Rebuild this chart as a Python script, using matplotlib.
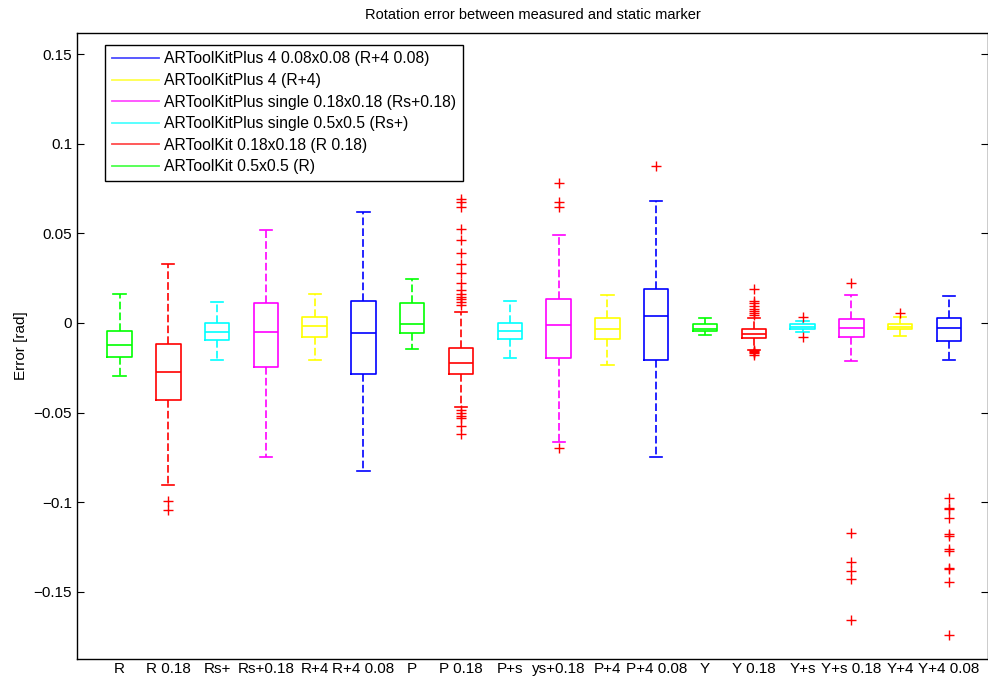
import numpy as np
import matplotlib
matplotlib.use('Agg')
import matplotlib.pyplot as plt
from matplotlib.lines import Line2D

plt.rcParams['font.family'] = ['Liberation Sans', 'DejaVu Sans']

# Box labels and colours
labels = ['R', 'R 0.18', 'Rs+', 'Rs+0.18', 'R+4', 'R+4 0.08', 'P', 'P 0.18', 'P+s',
          'ys+0.18', 'P+4', 'P+4 0.08', 'Y', 'Y 0.18', 'Y+s', 'Y+s 0.18', 'Y+4', 'Y+4 0.08']
colors = ['#00ff00', '#ff0000', '#00ffff', '#ff00ff', '#ffff00', '#0000ff'] * 3

# Box statistics [rad]
whislo = [-0.0296, -0.0907, -0.0209, -0.0747, -0.0209, -0.0825,
          -0.0147, -0.0470, -0.0196, -0.0663, -0.0235, -0.0750,
          -0.0066, -0.0150, -0.0048, -0.0210, -0.0075, -0.0207]
q1 = [-0.0188, -0.0432, -0.0093, -0.0244, -0.0080, -0.0285,
      -0.0058, -0.0285, -0.0089, -0.0196, -0.0088, -0.0207,
      -0.0047, -0.0084, -0.0032, -0.0080, -0.0035, -0.0101]
med = [-0.0125, -0.0276, -0.0052, -0.0052, -0.0017, -0.0056,
       -0.0006, -0.0222, -0.0045, -0.0011, -0.0034, 0.0039,
       -0.0033, -0.0063, -0.0020, -0.0028, -0.0020, -0.0026]
q3 = [-0.0047, -0.0117, 0.0000, 0.0114, 0.0035, 0.0123,
      0.0110, -0.0138, -0.0002, 0.0132, 0.0026, 0.0188,
      -0.0008, -0.0035, -0.0007, 0.0021, -0.0006, 0.0030]
whishi = [0.0161, 0.0331, 0.0119, 0.0520, 0.0160, 0.0620,
          0.0244, 0.0061, 0.0125, 0.0490, 0.0156, 0.0683,
          0.0030, 0.0030, 0.0013, 0.0158, 0.0035, 0.0149]
fliers = [
    [],
    [-0.0994, -0.1047],
    [],
    [],
    [],
    [],
    [],
    [0.0690, 0.0678, 0.0646, 0.0523, 0.0462, 0.0389, 0.0331, 0.0281, 0.0222, 0.0184,
     0.0160, 0.0147, 0.0135, 0.0119, 0.0101,
     -0.0488, -0.0505, -0.0518, -0.0533, -0.0574, -0.0620],
    [],
    [0.0780, 0.0678, 0.0650, -0.0697],
    [],
    [0.0877],
    [],
    [0.0188, 0.0125, 0.0110, 0.0095, 0.0080, 0.0067, 0.0054, 0.0045,
     -0.0151, -0.0158, -0.0164, -0.0170, -0.0177],
    [0.0035, -0.0080],
    [0.0223, -0.1175, -0.1333, -0.1384, -0.1432, -0.1659],
    [0.0054],
    [-0.0979, -0.1032, -0.1041, -0.1088, -0.1180, -0.1190, -0.1263, -0.1274,
     -0.1370, -0.1374, -0.1449, -0.1743],
]

legend_labels = ['ARToolKitPlus 4 0.08x0.08 (R+4 0.08)', 'ARToolKitPlus 4 (R+4)',
                 'ARToolKitPlus single 0.18x0.18 (Rs+0.18)', 'ARToolKitPlus single 0.5x0.5 (Rs+)',
                 'ARToolKit 0.18x0.18 (R 0.18)', 'ARToolKit 0.5x0.5 (R)']
legend_colors = ['#0000ff', '#ffff00', '#ff00ff', '#00ffff', '#ff0000', '#00ff00']

fig = plt.figure(figsize=(9.88, 6.84), dpi=100)
ax = fig.add_axes([0.078, 0.0365, 0.922, 0.9153])

stats = []
for i in range(len(labels)):
    stats.append(dict(label=labels[i], whislo=whislo[i], q1=q1[i], med=med[i],
                      q3=q3[i], whishi=whishi[i], fliers=fliers[i]))

positions = np.arange(1, len(labels) + 1)
bp = ax.bxp(stats, positions=positions, widths=0.5, showfliers=True)
for i, c in enumerate(colors):
    bp['boxes'][i].set(color=c, linewidth=1.2)
    bp['medians'][i].set(color=c, linewidth=1.2)
    for w in bp['whiskers'][2 * i:2 * i + 2]:
        w.set(color=c, linestyle=(0, (4.6, 1.9)), linewidth=1.2)
    for cap in bp['caps'][2 * i:2 * i + 2]:
        cap.set(color=c, linewidth=1.2)
    bp['fliers'][i].set(marker='+', markeredgecolor='red', markersize=7,
                        markeredgewidth=1.0, linestyle='none')

ax.set_xlim(0.13, 18.8)
ax.set_ylim(-0.1877, 0.162)
ax.set_yticks([-0.15, -0.1, -0.05, 0, 0.05, 0.1, 0.15])
ax.set_yticklabels(['\u22120.15', '\u22120.1', '\u22120.05', '0', '0.05', '0.1', '0.15'])
ax.set_xticks(positions)
ax.set_xticklabels(labels)
ax.tick_params(axis='x', length=0, labelsize=11, pad=2)
ax.tick_params(axis='y', direction='in', right=True, length=5, labelsize=11)
for s in ax.spines.values():
    s.set_linewidth(1.0)

ax.set_ylabel('Error [rad]', fontsize=11)
ax.set_title('Rotation error between measured and static marker', fontsize=10.5, pad=10)

handles = [Line2D([], [], color=c, linewidth=1.3, alpha=0.7) for c in legend_colors]
leg = ax.legend(handles, legend_labels, loc='upper left', bbox_to_anchor=(0.0307, 0.981),
                borderaxespad=0, fontsize=11.3, fancybox=False, framealpha=1,
                edgecolor='black', handlelength=3.0, labelspacing=0.42,
                borderpad=0.42, handletextpad=0.35)
leg.get_frame().set_linewidth(1.0)

fig.savefig('out.png', dpi=100)
